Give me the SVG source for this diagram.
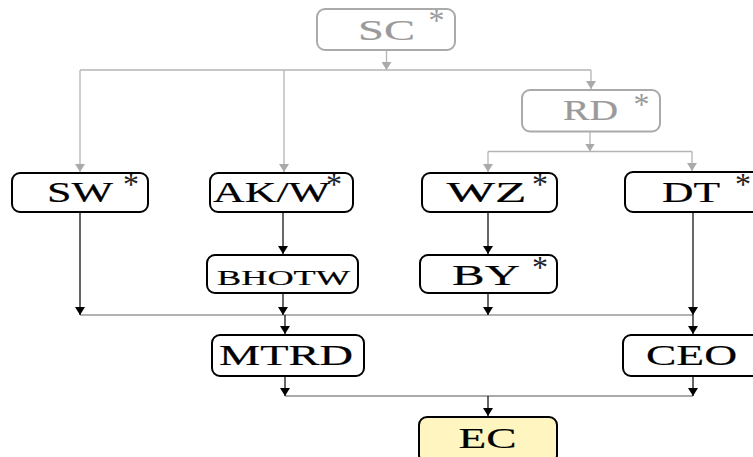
<svg xmlns="http://www.w3.org/2000/svg" width="753" height="457" viewBox="0 0 753 457">
<style>
.box{fill:#fff;stroke:#000;stroke-width:2}
.gbox{fill:#fff;stroke:#aaa;stroke-width:2}
.ec{fill:#fff5c0;stroke:#000;stroke-width:2}
.t{font-family:"Liberation Serif","Times New Roman",serif;font-size:30px;fill:#000;stroke:#000;stroke-width:0.2;text-anchor:middle}
.gt{fill:#9a9a9a;stroke:#9a9a9a}
.s{font-size:21px}
.ast{font-family:"Liberation Serif","Times New Roman",serif;font-size:32px;fill:#222;text-anchor:middle}
.ga{fill:#9a9a9a}
.gl{stroke:#b4b4b4;stroke-width:1.3;fill:none}
.bl{stroke:#000;stroke-width:1.2;fill:none}
.ml{stroke:#999;stroke-width:1.5;fill:none}
.dl{stroke:#555;stroke-width:1;fill:none}
</style>
<defs>
<marker id="ab" markerWidth="8" markerHeight="10" refX="8" refY="5" orient="auto" markerUnits="userSpaceOnUse">
<path d="M0,0 L8,5 L0,10 Z" fill="#000"/>
</marker>
<marker id="ag" markerWidth="8" markerHeight="10" refX="8" refY="5" orient="auto" markerUnits="userSpaceOnUse">
<path d="M0,0 L8,5 L0,10 Z" fill="#aaa"/>
</marker>
</defs>
<g id="connectors">
<path class="gl" d="M386.5,50 V70" marker-end="url(#ag)"/>
<path class="gl" d="M80,70 H591"/>
<path class="gl" d="M80,70 V172" marker-end="url(#ag)"/>
<path class="gl" d="M284,70 V172" marker-end="url(#ag)"/>
<path class="gl" d="M591,70 V89" marker-end="url(#ag)"/>
<path class="gl" d="M590,131.5 V151.5" marker-end="url(#ag)"/>
<path class="gl" d="M488,151.5 H692"/>
<path class="gl" d="M488,151.5 V172" marker-end="url(#ag)"/>
<path class="gl" d="M692,151.5 V171" marker-end="url(#ag)"/>
<path class="bl" d="M283,212 V254" marker-end="url(#ab)"/>
<path class="bl" d="M488,212 V254" marker-end="url(#ab)"/>
<path class="ml" d="M80,315 H693"/>
<path class="bl" d="M80,212 V315" marker-end="url(#ab)"/>
<path class="bl" d="M283,293 V315" marker-end="url(#ab)"/>
<path class="bl" d="M488,293 V315" marker-end="url(#ab)"/>
<path class="bl" d="M693,212 V315" marker-end="url(#ab)"/>
<path class="bl" d="M285,315 V334" marker-end="url(#ab)"/>
<path class="bl" d="M693,315 V334" marker-end="url(#ab)"/>
<path class="dl" d="M285,396 H693"/>
<path class="bl" d="M285,376 V396" marker-end="url(#ab)"/>
<path class="bl" d="M693,376 V396" marker-end="url(#ab)"/>
<path class="bl" d="M488,396 V416" marker-end="url(#ab)"/>
</g>
<g id="SC">
<rect class="gbox" x="317" y="9" width="138" height="41" rx="8"/>
<text class="t gt" x="386.5" y="40" textLength="57" lengthAdjust="spacingAndGlyphs">SC</text>
<text class="ast ga" x="436.5" y="31">*</text>
</g>
<g id="RD">
<rect class="gbox" x="522" y="90" width="138" height="41.5" rx="8"/>
<text class="t gt" x="590.5" y="120" textLength="55" lengthAdjust="spacingAndGlyphs">RD</text>
<text class="ast ga" x="641.5" y="115">*</text>
</g>
<g id="SW">
<rect class="box" x="12" y="173" width="136" height="39" rx="8"/>
<text class="t" x="80" y="202" textLength="66" lengthAdjust="spacingAndGlyphs">SW</text>
<text class="ast" x="131" y="195">*</text>
</g>
<g id="AKW">
<rect class="box" x="210" y="173" width="143" height="39" rx="8"/>
<text class="t" x="271.5" y="202" textLength="117" lengthAdjust="spacingAndGlyphs">AK/W</text>
<text class="ast" x="334" y="195">*</text>
</g>
<g id="WZ">
<rect class="box" x="422" y="173" width="135" height="39" rx="8"/>
<text class="t" x="486.5" y="202" textLength="80" lengthAdjust="spacingAndGlyphs">WZ</text>
<text class="ast" x="540" y="195">*</text>
</g>
<g id="DT">
<rect class="box" x="625" y="172" width="136" height="40" rx="8"/>
<text class="t" x="691" y="202" textLength="58" lengthAdjust="spacingAndGlyphs">DT</text>
<text class="ast" x="743" y="195">*</text>
</g>
<g id="BHOTW">
<rect class="box" x="207" y="255" width="151" height="38" rx="8"/>
<text class="t s" x="283.5" y="285" textLength="133" lengthAdjust="spacingAndGlyphs">BHOTW</text>
</g>
<g id="BY">
<rect class="box" x="420" y="255" width="137" height="38" rx="8"/>
<text class="t" x="486" y="285" textLength="68" lengthAdjust="spacingAndGlyphs">BY</text>
<text class="ast" x="540" y="278">*</text>
</g>
<g id="MTRD">
<rect class="box" x="212" y="335" width="152" height="41" rx="8"/>
<text class="t" x="286" y="365" textLength="134" lengthAdjust="spacingAndGlyphs">MTRD</text>
</g>
<g id="CEO">
<rect class="box" x="623" y="335" width="140" height="41" rx="8"/>
<text class="t" x="691.5" y="365" textLength="91" lengthAdjust="spacingAndGlyphs">CEO</text>
</g>
<g id="EC">
<rect class="ec" x="419" y="417" width="138" height="46" rx="8"/>
<text class="t" x="487.5" y="448" textLength="58" lengthAdjust="spacingAndGlyphs">EC</text>
</g>
</svg>
